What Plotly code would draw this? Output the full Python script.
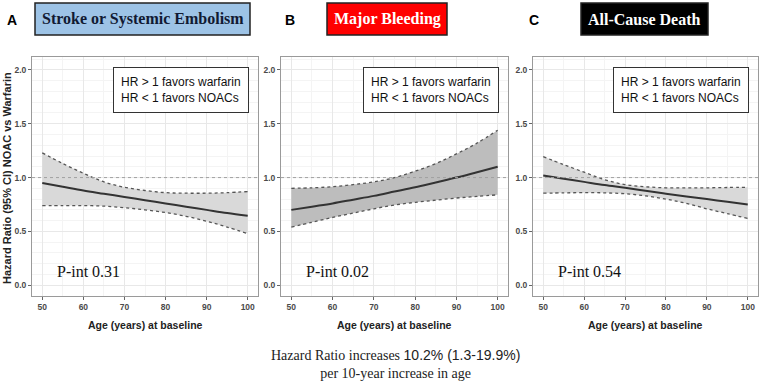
import plotly.graph_objects as go

age = [50, 55, 60, 65, 70, 75, 80, 85, 90, 95, 100]

# Panel A: Stroke or Systemic Embolism
a_mean = [0.95, 0.915, 0.88, 0.85, 0.82, 0.79, 0.76, 0.73, 0.70, 0.67, 0.645]
a_upper = [1.23, 1.13, 1.04, 0.96, 0.91, 0.88, 0.86, 0.855, 0.855, 0.86, 0.87]
a_lower = [0.74, 0.74, 0.74, 0.735, 0.72, 0.70, 0.675, 0.64, 0.595, 0.54, 0.48]

# Panel B: Major Bleeding
b_mean = [0.70, 0.73, 0.76, 0.795, 0.83, 0.87, 0.91, 0.955, 1.00, 1.05, 1.10]
b_upper = [0.90, 0.905, 0.915, 0.935, 0.96, 1.00, 1.06, 1.13, 1.22, 1.32, 1.44]
b_lower = [0.54, 0.585, 0.63, 0.67, 0.71, 0.745, 0.77, 0.79, 0.81, 0.825, 0.84]

# Panel C: All-Cause Death
c_mean = [1.02, 0.99, 0.96, 0.93, 0.905, 0.877, 0.85, 0.825, 0.80, 0.775, 0.75]
c_upper = [1.195, 1.12, 1.05, 0.98, 0.935, 0.915, 0.905, 0.905, 0.905, 0.908, 0.91]
c_lower = [0.855, 0.858, 0.86, 0.858, 0.85, 0.83, 0.80, 0.76, 0.71, 0.665, 0.62]

x_ticks = [50, 60, 70, 80, 90, 100]
x_tick_labels = ["50", "60", "70", "80", "90", "100"]
y_ticks = [0.0, 0.5, 1.0, 1.5, 2.0]
y_tick_labels = ["0.0", "0.5", "1.0", "1.5", "2.0"]

titles = ["Stroke or Systemic Embolism", "Major Bleeding", "All-Cause Death"]
letters = ["A", "B", "C"]
pints = ["P-int 0.31", "P-int 0.02", "P-int 0.54"]

W, H = 760, 387
def px(x): return x / W
def py(y): return 1 - y / H

panels = [
    dict(mean=a_mean, up=a_upper, lo=a_lower, x0=32, x1=258, fill="#D9D9D9"),
    dict(mean=b_mean, up=b_upper, lo=b_lower, x0=281, x1=508, fill="#BDBDBD"),
    dict(mean=c_mean, up=c_upper, lo=c_lower, x0=533, x1=758, fill="#D9D9D9"),
]
ytop, ybot = 57, 296

fig = go.Figure()
layout = dict(width=W, height=H, margin=dict(l=0, r=0, t=0, b=0, autoexpand=False),
              paper_bgcolor="white", plot_bgcolor="white", showlegend=False,
              template="none")

tickfont = dict(family="Liberation Sans, Arial", size=8.5, color="#4a4a4a")
annotations = []
shapes = []
for i, p in enumerate(panels):
    sfx = "" if i == 0 else str(i + 1)
    xa, ya = "x" + sfx, "y" + sfx
    fig.add_trace(go.Scatter(x=age, y=p["lo"], mode="lines", xaxis=xa, yaxis=ya,
                             line=dict(color="#555555", width=1.3, dash="dot", shape="spline"),
                             hoverinfo="skip"))
    fig.add_trace(go.Scatter(x=age, y=p["up"], mode="lines", xaxis=xa, yaxis=ya,
                             fill="tonexty", fillcolor=p["fill"],
                             line=dict(color="#555555", width=1.3, dash="dot", shape="spline"),
                             hoverinfo="skip"))
    fig.add_trace(go.Scatter(x=age, y=p["mean"], mode="lines", xaxis=xa, yaxis=ya,
                             line=dict(color="#333333", width=2, shape="spline")))
    axcommon = dict(showline=True, mirror=True, linecolor="#9a9a9a", linewidth=1,
                    ticks="outside", ticklen=3, tickcolor="#666666",
                    showgrid=True, gridcolor="#E8E8E8", gridwidth=1, zeroline=False,
                    automargin=False, tickfont=tickfont,
                    minor=dict(showgrid=True, gridcolor="#F4F4F4", gridwidth=1))
    layout["xaxis" + sfx] = dict(axcommon, domain=[px(p["x0"]), px(p["x1"])],
                                 range=[47.5, 102.5], tickvals=x_ticks,
                                 ticktext=["<b>%s</b>" % t for t in x_tick_labels], anchor=ya)
    layout["yaxis" + sfx] = dict(axcommon, domain=[py(ybot), py(ytop)],
                                 range=[-0.1, 2.12], tickvals=y_ticks,
                                 ticktext=["<b>%s</b>" % t for t in y_tick_labels],
                                 anchor=xa)
    # reference line HR = 1
    shapes.append(dict(type="line", xref=xa + " domain", yref=ya, x0=0, x1=1, y0=1, y1=1,
                       line=dict(color="#A0A0A0", width=1, dash="dot")))
    # x title
    annotations.append(dict(text="<b>Age (years) at baseline</b>", xref="paper", yref="paper",
                            x=px((p["x0"] + p["x1"]) / 2), y=py(325), showarrow=False,
                            font=dict(family="Liberation Sans, Arial", size=10.5, color="#222222"),
                            xanchor="center", yanchor="middle"))
    # HR box
    annotations.append(dict(text="HR > 1 favors warfarin<br>HR < 1 favors NOACs",
                            xref=xa, yref=ya, x=100.2, y=1.81, xanchor="right", yanchor="middle",
                            showarrow=False, align="left",
                            font=dict(family="Liberation Sans, Arial", size=12, color="#111111"),
                            bordercolor="#333333", borderwidth=1, borderpad=7,
                            bgcolor="white"))
    # P-int
    annotations.append(dict(text=pints[i], xref=xa, yref=ya, x=53, y=0.13,
                            xanchor="left", yanchor="middle", showarrow=False,
                            font=dict(family="Liberation Serif, Times New Roman", size=16,
                                      color="#111111")))

# titles
title_specs = [
    dict(x0=35, x1=250, fill="#9DC3E6", fc="#111a33", lx=12),
    dict(x0=327, x1=447, fill="#FF0000", fc="white", lx=290),
    dict(x0=581, x1=708, fill="#000000", fc="white", lx=534),
]
for i, t in enumerate(title_specs):
    shapes.append(dict(type="rect", xref="paper", yref="paper",
                       x0=px(t["x0"]), x1=px(t["x1"]), y0=py(35), y1=py(3),
                       fillcolor=t["fill"], line=dict(color="#222222", width=1.5)))
    annotations.append(dict(text="<b>" + titles[i] + "</b>", xref="paper", yref="paper",
                            x=px((t["x0"] + t["x1"]) / 2), y=py(19), showarrow=False,
                            xanchor="center", yanchor="middle",
                            font=dict(family="Liberation Serif, Times New Roman", size=16,
                                      color=t["fc"])))
    annotations.append(dict(text="<b>" + letters[i] + "</b>", xref="paper", yref="paper",
                            x=px(t["lx"]), y=py(20), showarrow=False,
                            xanchor="center", yanchor="middle",
                            font=dict(family="Liberation Sans, Arial", size=14, color="black")))

# y title
annotations.append(dict(text="<b>Hazard Ratio (95% CI) NOAC vs Warfarin</b>", xref="paper",
                        yref="paper", x=px(7), y=py(178), textangle=-90, showarrow=False,
                        xanchor="center", yanchor="middle",
                        font=dict(family="Liberation Sans, Arial", size=11, color="#222222")))

# bottom note
annotations.append(dict(
    text="Hazard Ratio increases <span style='font-family:Liberation Sans, Arial'>10.2% (1.3-19.9%)</span><br>per 10-year increase in age",
    xref="paper", yref="paper", x=px(395), y=py(364), showarrow=False,
    xanchor="center", yanchor="middle", align="center",
    font=dict(family="Liberation Serif, Times New Roman", size=14, color="#222222")))

layout["annotations"] = annotations
layout["shapes"] = shapes
fig.update_layout(**layout)
fig.write_html("out.html", config={"displayModeBar": False},
               post_script="document.body.style.margin='0';document.body.style.overflow='hidden';")
